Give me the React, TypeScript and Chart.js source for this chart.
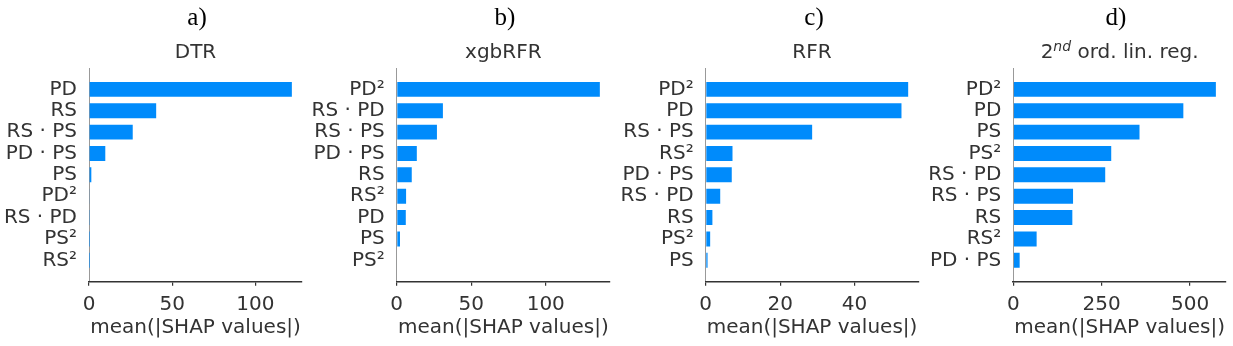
import React, { useEffect, useRef } from "react";
import { Chart, registerables } from "chart.js";

Chart.register(...registerables);

// ---------- data ----------
const dtrFeatures = ["PD", "RS", "RS · PS", "PD · PS", "PS", "PD²", "RS · PD", "PS²", "RS²"];
const dtrValues = [122, 40.4, 26.3, 9.8, 1.4, 0.3, 0.2, 0.05, 0.02];
const dtrTicks = [0, 50, 100];

const xgbFeatures = ["PD²", "RS · PD", "RS · PS", "PD · PS", "RS", "RS²", "PD", "PS", "PS²"];
const xgbValues = [136.3, 31, 27, 13.5, 10.1, 6.3, 6.1, 2.2, 0.4];
const xgbTicks = [0, 50, 100];

const rfrFeatures = ["PD²", "PD", "RS · PS", "RS²", "PD · PS", "RS · PD", "RS", "PS²", "PS"];
const rfrValues = [54.4, 52.6, 28.6, 7.2, 7.0, 3.9, 1.8, 1.2, 0.5];
const rfrTicks = [0, 20, 40];

const linFeatures = ["PD²", "PD", "PS", "PS²", "RS · PD", "RS · PS", "RS", "RS²", "PD · PS"];
const linValues = [573, 481, 357, 277, 260, 169, 167, 66, 18];
const linTicks = [0, 250, 500];

const panelLetters = ["a)", "b)", "c)", "d)"];
const panelTitles = ["DTR", "xgbRFR", "RFR", "2nd ord. lin. reg."];
const xAxisTitle = "mean(|SHAP values|)";

// ---------- layout ----------
const H = 346;
const PLOT_TOP = 68;
const PLOT_BOTTOM = 281.7;
const BAR_COLOR = "#008bfb";
const TEXT_COLOR = "#333333";
const FONT = "'DejaVu Sans', sans-serif";
const FONT_SIZE = 20;

type PanelDef = {
  features: string[];
  values: number[];
  ticks: number[];
  canvasLeft: number;
  canvasWidth: number;
  plotLeft: number;
  plotRight: number;
  letterX: number;
};

const panels: PanelDef[] = [
  { features: dtrFeatures, values: dtrValues, ticks: dtrTicks, canvasLeft: 0, canvasWidth: 308, plotLeft: 89, plotRight: 302, letterX: 197 },
  { features: xgbFeatures, values: xgbValues, ticks: xgbTicks, canvasLeft: 308, canvasWidth: 308, plotLeft: 396.7, plotRight: 610, letterX: 505 },
  { features: rfrFeatures, values: rfrValues, ticks: rfrTicks, canvasLeft: 616, canvasWidth: 308, plotLeft: 705.7, plotRight: 918.3, letterX: 814 },
  { features: linFeatures, values: linValues, ticks: linTicks, canvasLeft: 924, canvasWidth: 309, plotLeft: 1013.3, plotRight: 1226, letterX: 1116 },
];

function Panel({ p }: { p: PanelDef }) {
  const ref = useRef<HTMLCanvasElement | null>(null);
  useEffect(() => {
    if (!ref.current) return;
    const font = { family: FONT, size: FONT_SIZE };
    const chart = new Chart(ref.current, {
      type: "bar",
      data: {
        datasets: [
          {
            data: p.values.map((v, i) => ({ x: v, y: i })),
            backgroundColor: BAR_COLOR,
            borderWidth: 0,
            barPercentage: 0.7,
            categoryPercentage: 1,
          },
        ],
      },
      options: {
        indexAxis: "y",
        animation: false,
        responsive: false,
        devicePixelRatio: 1,
        layout: {
          padding: {
            top: PLOT_TOP,
            bottom: 0,
            left: 0,
            right: p.canvasLeft + p.canvasWidth - p.plotRight,
          },
        },
        plugins: {
          legend: { display: false },
          tooltip: { enabled: false },
          title: { display: false },
        },
        scales: {
          y: {
            type: "linear",
            min: -1,
            max: p.features.length,
            reverse: true,
            offset: false,
            afterBuildTicks: (s: any) => {
              s.ticks = p.features.map((_, i) => ({ value: i }));
            },
            afterFit: (s: any) => {
              s.width = p.plotLeft - p.canvasLeft;
            },
            ticks: {
              autoSkip: false,
              padding: 12,
              color: TEXT_COLOR,
              font,
              callback: (v: any) => p.features[v] ?? "",
            },
            grid: { display: false, drawTicks: false, offset: false },
            border: { display: true, color: "#999999", width: 1 },
          },
          x: {
            type: "linear",
            min: 0,
            max: Math.max(...p.values) * 1.05,
            afterBuildTicks: (s: any) => {
              s.ticks = p.ticks.map((v) => ({ value: v }));
            },
            afterFit: (s: any) => {
              s.height = H - PLOT_BOTTOM;
            },
            ticks: {
              autoSkip: false,
              maxRotation: 0,
              padding: 7,
              color: TEXT_COLOR,
              font,
            },
            grid: {
              display: true,
              drawOnChartArea: false,
              drawTicks: true,
              tickLength: 4,
              color: TEXT_COLOR,
              lineWidth: 1.2,
            },
            border: { display: true, color: TEXT_COLOR, width: 1.6 },
            title: {
              display: true,
              text: xAxisTitle,
              color: TEXT_COLOR,
              font,
              padding: { top: 0, bottom: 6 },
            },
          },
        },
      } as any,
    });
    return () => chart.destroy();
  }, [p]);
  return (
    <canvas
      ref={ref}
      width={p.canvasWidth}
      height={H}
      style={{ position: "absolute", left: p.canvasLeft, top: 0, width: p.canvasWidth, height: H }}
    />
  );
}

export default function App() {
  return (
    <div style={{ position: "absolute", left: 0, top: 0, width: 1233, height: H, background: "#ffffff", overflow: "hidden" }}>
      {panels.map((p, i) => (
        <React.Fragment key={i}>
          <Panel p={p} />
          <div
            style={{
              position: "absolute",
              left: p.letterX - 50,
              width: 100,
              top: 4,
              textAlign: "center",
              fontFamily: "'Liberation Serif', 'Times New Roman', serif",
              fontSize: 25,
              lineHeight: "25px",
              color: "#000000",
            }}
          >
            {panelLetters[i]}
          </div>
          <div
            style={{
              position: "absolute",
              left: p.plotLeft - 40,
              width: p.plotRight - p.plotLeft + 80,
              top: 40.6,
              textAlign: "center",
              fontFamily: FONT,
              fontSize: FONT_SIZE,
              lineHeight: FONT_SIZE + "px",
              color: TEXT_COLOR,
              whiteSpace: "nowrap",
            }}
          >
            {i === 3 ? (
              <>
                2
                <sup style={{ fontSize: "0.7em", fontStyle: "italic", verticalAlign: "0.5em", lineHeight: 0 }}>nd</sup>
                {" ord. lin. reg."}
              </>
            ) : (
              panelTitles[i]
            )}
          </div>
        </React.Fragment>
      ))}
    </div>
  );
}
